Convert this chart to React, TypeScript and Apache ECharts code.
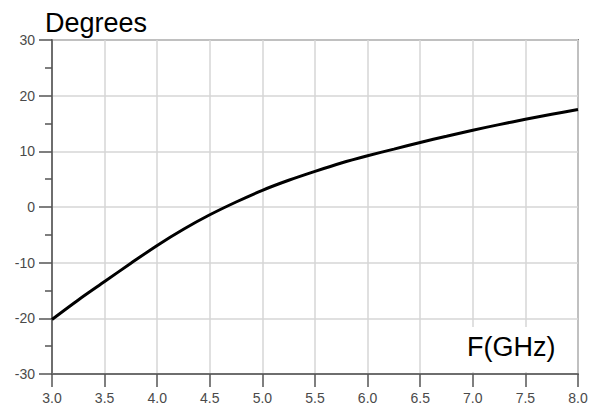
import React, { useEffect, useRef } from "react";
import * as echarts from "echarts";

const freqGHz = [3.0, 3.25, 3.5, 3.75, 4.0, 4.25, 4.5, 4.75, 5.0, 5.25, 5.5, 5.75, 6.0, 6.25, 6.5, 6.75, 7.0, 7.25, 7.5, 7.75, 8.0];
const degrees = [-20.2, -16.7, -13.4, -10.1, -6.9, -4.0, -1.4, 0.9, 3.0, 4.8, 6.4, 7.9, 9.2, 10.4, 11.6, 12.7, 13.8, 14.8, 15.75, 16.65, 17.5];
const yTitle = "Degrees";
const xTitle = "F(GHz)";

export default function App() {
  const ref = useRef<HTMLDivElement>(null);
  useEffect(() => {
    if (!ref.current) return;
    const chart = echarts.init(ref.current, null, { renderer: "svg" });
    const font = "'Liberation Sans', Arial, sans-serif";
    chart.setOption({
      animation: false,
      backgroundColor: "#fff",
      grid: {
        left: 52,
        right: 21,
        top: 40,
        bottom: 40,
        show: true,
        borderColor: "#7f7f7f",
        borderWidth: 2,
        backgroundColor: "transparent",
      },
      xAxis: {
        type: "value",
        min: 3,
        max: 8,
        interval: 0.5,
        axisLine: { show: true, onZero: false, lineStyle: { color: "#6e6e6e", width: 2 } },
        axisTick: { show: true, length: 13, lineStyle: { color: "#555", width: 1.5 } },
        splitLine: { show: true, lineStyle: { color: "#d6d6d6", width: 1.5 } },
        axisLabel: {
          color: "#4a4a4a",
          fontSize: 14,
          fontFamily: font,
          margin: 17,
          formatter: (v: number) => v.toFixed(1),
        },
      },
      yAxis: {
        type: "value",
        min: -30,
        max: 30,
        interval: 10,
        axisLine: { show: true, onZero: false, lineStyle: { color: "#6e6e6e", width: 2 } },
        axisTick: { show: true, length: 13, lineStyle: { color: "#555", width: 1.5 } },
        minorTick: { show: true, splitNumber: 2, length: 7, lineStyle: { color: "#555", width: 1.5 } },
        splitLine: { show: true, lineStyle: { color: "#d6d6d6", width: 1.5 } },
        axisLabel: {
          color: "#4a4a4a",
          fontSize: 14,
          fontFamily: font,
          margin: 17,
        },
      },
      series: [
        {
          type: "line",
          data: freqGHz.map((f, i) => [f, degrees[i]]),
          smooth: 0.3,
          showSymbol: false,
          symbol: "none",
          lineStyle: { color: "#000", width: 3 },
          z: 3,
        },
      ],
      graphic: [
        {
          type: "text",
          left: 45,
          top: 9,
          style: { text: yTitle, fontSize: 27, fontFamily: font, fill: "#000" },
          z: 101,
        },
        {
          type: "rect",
          shape: { x: 450, y: 327, width: 126, height: 45 },
          style: { fill: "#fff" },
          z: 100,
        },
        {
          type: "text",
          left: 467,
          top: 333,
          style: { text: xTitle, fontSize: 27, fontFamily: font, fill: "#000" },
          z: 101,
        },
      ],
    });
    return () => chart.dispose();
  }, []);
  return (
    <div
      ref={ref}
      style={{ position: "fixed", left: 0, top: 0, width: 599, height: 414 }}
    />
  );
}
